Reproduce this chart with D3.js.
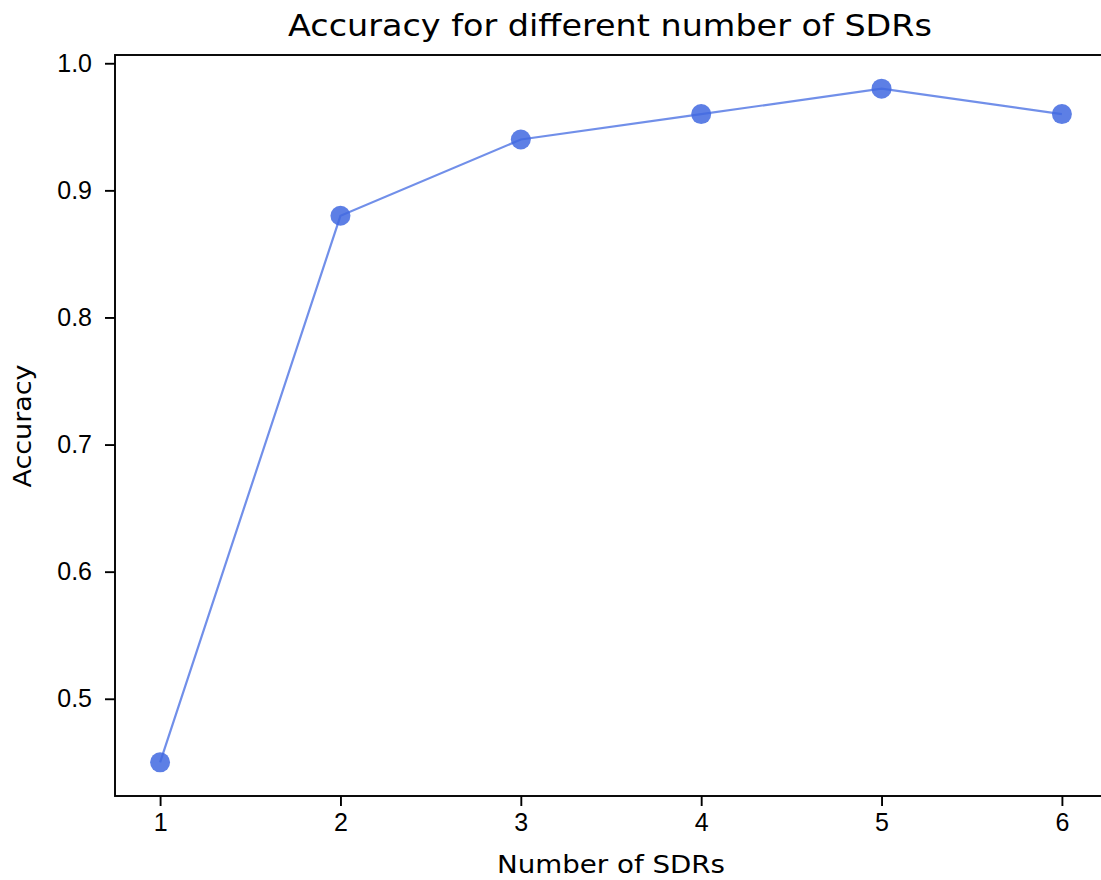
<!DOCTYPE html>
<html>
<head>
<meta charset="utf-8">
<script src="https://cdn.jsdelivr.net/npm/d3@7"></script>
<style>
  body { margin: 0; background: #fff; overflow: hidden; }
  svg { display: block; font-family: "DejaVu Sans", sans-serif; }
  .tick text { font-size: 25px; fill: #000; }
  .tick line { stroke: #000; stroke-width: 1.9; }
</style>
</head>
<body>
<svg width="1101" height="880"></svg>
<script>
const sdrCounts = [1, 2, 3, 4, 5, 6];
const accuracy = [0.45, 0.88, 0.94, 0.96, 0.98, 0.96];
const yTicks = [0.5, 0.6, 0.7, 0.8, 0.9, 1.0];

const svg = d3.select("svg");

const plotLeft = 115, plotRight = 1107, plotTop = 55, plotBottom = 796;

const x = d3.scaleLinear().domain([0.75, 6.25]).range([plotLeft, plotRight]);
const y = d3.scaleLinear().domain([0.4235, 1.0065]).range([plotBottom, plotTop]);

const data = sdrCounts.map((d, i) => ({ n: d, acc: accuracy[i] }));

// line + markers
const line = d3.line().x(d => x(d.n)).y(d => y(d.acc));

svg.append("path")
  .attr("d", line(data))
  .attr("fill", "none")
  .attr("stroke", "royalblue")
  .attr("stroke-opacity", 0.75)
  .attr("stroke-width", 2.2);

svg.selectAll(".dot")
  .data(data)
  .enter()
  .append("circle")
  .attr("class", "dot")
  .attr("cx", d => x(d.n))
  .attr("cy", d => y(d.acc))
  .attr("r", 10)
  .attr("fill", "royalblue")
  .attr("fill-opacity", 0.85);

// axes
const xAxis = d3.axisBottom(x).tickValues(sdrCounts).tickFormat(d3.format("d"))
  .tickSize(10).tickPadding(7);
const yAxis = d3.axisLeft(y).tickValues(yTicks).tickFormat(d3.format(".1f"))
  .tickSize(10).tickPadding(13);

const xAxisG = svg.append("g").attr("transform", `translate(0,${plotBottom})`).call(xAxis);
xAxisG.select(".domain").remove();

const yAxisG = svg.append("g").attr("transform", `translate(${plotLeft},0)`).call(yAxis);
yAxisG.select(".domain").remove();

// frame
svg.append("rect")
  .attr("x", plotLeft)
  .attr("y", plotTop)
  .attr("width", plotRight - plotLeft)
  .attr("height", plotBottom - plotTop)
  .attr("fill", "none")
  .attr("stroke", "#000")
  .attr("stroke-width", 1.9);

// labels
svg.append("text")
  .attr("x", 610)
  .attr("y", 36)
  .attr("text-anchor", "middle")
  .attr("font-size", 30.5)
  .attr("textLength", 644)
  .attr("lengthAdjust", "spacingAndGlyphs")
  .text("Accuracy for different number of SDRs");

svg.append("text")
  .attr("x", 611)
  .attr("y", 873)
  .attr("text-anchor", "middle")
  .attr("font-size", 25)
  .attr("textLength", 228)
  .attr("lengthAdjust", "spacingAndGlyphs")
  .text("Number of SDRs");

svg.append("text")
  .attr("transform", `translate(31,426) rotate(-90)`)
  .attr("text-anchor", "middle")
  .attr("font-size", 25)
  .attr("textLength", 123)
  .attr("lengthAdjust", "spacingAndGlyphs")
  .text("Accuracy");
</script>
</body>
</html>
